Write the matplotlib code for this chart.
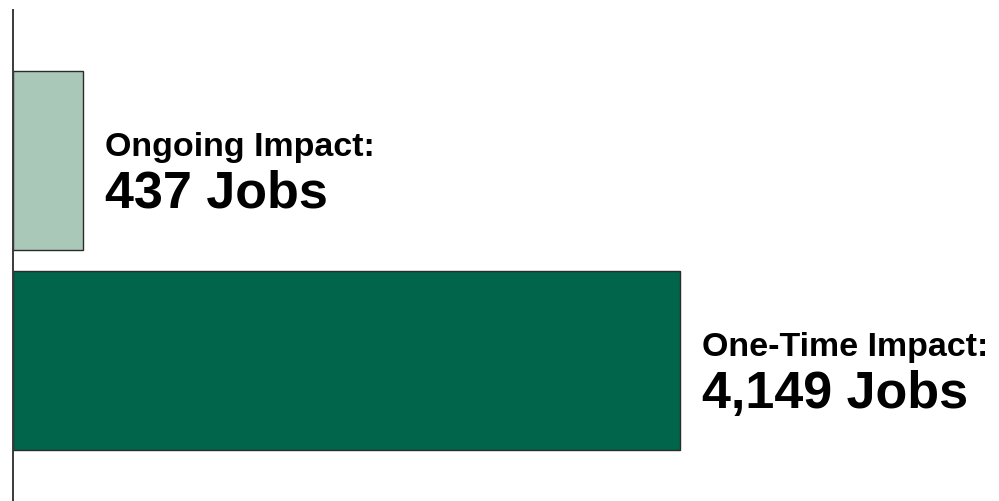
import matplotlib
matplotlib.use("Agg")
import matplotlib.pyplot as plt
import matplotlib.transforms as mtransforms

# data
categories = ["Ongoing Impact:", "One-Time Impact:"]
jobs = [437, 4149]
bar_colors = ["#a9c8b8", "#00654a"]

plt.rcParams["font.family"] = ["Liberation Sans", "DejaVu Sans"]

fig = plt.figure(figsize=(9.99, 5.01), dpi=100)
ax = fig.add_axes([13 / 999, 0, 1 - 13 / 999, 491 / 501])

ypos = list(range(len(jobs)))
ax.barh(ypos, jobs, height=0.895, color=bar_colors,
        edgecolor="#2b2b2b", linewidth=1.0, zorder=2)

ax.set_xlim(0, 6133)
ax.set_ylim(1.705, -0.75)

for s in ["top", "right", "bottom"]:
    ax.spines[s].set_visible(False)
ax.spines["left"].set_color("#3a3a3a")
ax.spines["left"].set_linewidth(1.4)
ax.set_xticks([])
ax.set_yticks([])

# labels to the right of each bar
for y, v, cat in zip(ypos, jobs, categories):
    t1 = mtransforms.offset_copy(ax.transData, fig=fig, x=22, y=4, units="dots")
    t2 = mtransforms.offset_copy(ax.transData, fig=fig, x=22, y=-48, units="dots")
    ax.text(v, y, cat, transform=t1, fontsize=24.5, fontweight="bold",
            ha="left", va="baseline", color="black")
    ax.text(v, y, "{:,} Jobs".format(v), transform=t2, fontsize=37.5,
            fontweight="bold", ha="left", va="baseline", color="black")

fig.savefig("out.png", dpi=100)
